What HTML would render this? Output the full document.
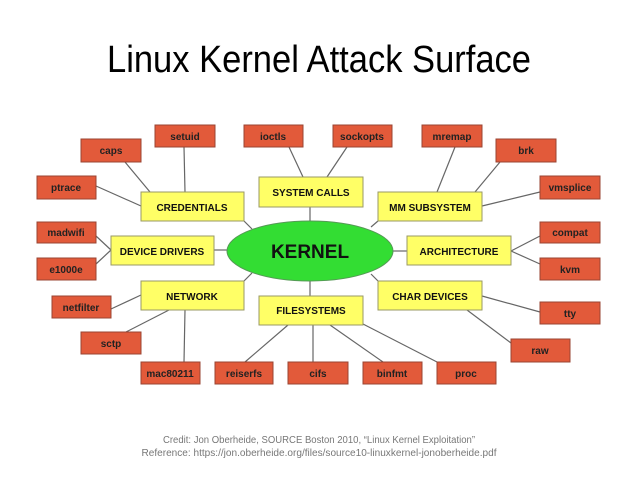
<!DOCTYPE html>
<html><head><meta charset="utf-8"><style>
html,body{margin:0;padding:0;background:#fff;}
svg{display:block;}
</style></head><body>
<svg width="638" height="479" viewBox="0 0 638 479" xmlns="http://www.w3.org/2000/svg" font-family="Liberation Sans, Arial, sans-serif">
<rect width="638" height="479" fill="#fff"/>
<text x="319" y="72" font-size="38" text-anchor="middle" textLength="424" lengthAdjust="spacingAndGlyphs" fill="#000">Linux Kernel Attack Surface</text>
<g stroke="#666" stroke-width="1.2">
<line x1="184" y1="147" x2="185" y2="192"/>
<line x1="125" y1="162" x2="150" y2="192"/>
<line x1="96" y1="186" x2="141" y2="206"/>
<line x1="244" y1="221" x2="252" y2="229"/>
<line x1="289" y1="147" x2="303" y2="177"/>
<line x1="347" y1="147" x2="327" y2="177"/>
<line x1="310" y1="207" x2="310" y2="221"/>
<line x1="96" y1="236" x2="111" y2="250"/>
<line x1="96" y1="264" x2="111" y2="250"/>
<line x1="214" y1="250" x2="227" y2="250"/>
<line x1="244" y1="281" x2="252" y2="273"/>
<line x1="111" y1="309" x2="141" y2="295"/>
<line x1="126" y1="332" x2="169" y2="310"/>
<line x1="184" y1="362" x2="185" y2="310"/>
<line x1="310" y1="281" x2="310" y2="296"/>
<line x1="245" y1="362" x2="288" y2="325"/>
<line x1="313" y1="362" x2="313" y2="325"/>
<line x1="383" y1="362" x2="330" y2="325"/>
<line x1="437" y1="362" x2="363" y2="324"/>
<line x1="371" y1="227" x2="378" y2="221"/>
<line x1="455" y1="147" x2="437" y2="192"/>
<line x1="500" y1="162" x2="475" y2="192"/>
<line x1="540" y1="192" x2="482" y2="206"/>
<line x1="392" y1="251" x2="407" y2="251"/>
<line x1="540" y1="236" x2="511" y2="251"/>
<line x1="540" y1="264" x2="511" y2="251"/>
<line x1="371" y1="274" x2="378" y2="281"/>
<line x1="540" y1="312" x2="482" y2="296"/>
<line x1="511" y1="343" x2="467" y2="310"/>
</g>
<ellipse cx="310" cy="251" rx="83" ry="30" fill="#33dd33" stroke="#559955" stroke-width="1"/>
<text x="310" y="258" font-size="19" font-weight="bold" text-anchor="middle" fill="#111">KERNEL</text>
<g fill="#ffff66" stroke="#999966" stroke-width="1">
<rect x="141" y="192" width="103" height="29"/>
<rect x="259" y="177" width="104" height="30"/>
<rect x="111" y="236" width="103" height="29"/>
<rect x="141" y="281" width="103" height="29"/>
<rect x="259" y="296" width="104" height="29"/>
<rect x="378" y="192" width="104" height="29"/>
<rect x="407" y="236" width="104" height="29"/>
<rect x="378" y="281" width="104" height="29"/>
</g>
<g font-size="10" font-weight="bold" text-anchor="middle" fill="#111">
<text x="192" y="211">CREDENTIALS</text>
<text x="311" y="196">SYSTEM CALLS</text>
<text x="162" y="255">DEVICE DRIVERS</text>
<text x="192" y="300">NETWORK</text>
<text x="311" y="314">FILESYSTEMS</text>
<text x="430" y="211">MM SUBSYSTEM</text>
<text x="459" y="255">ARCHITECTURE</text>
<text x="430" y="300">CHAR DEVICES</text>
</g>
<g fill="#e25a3a" stroke="#994433" stroke-width="1">
<rect x="155" y="125" width="60" height="22"/>
<rect x="81" y="139" width="60" height="23"/>
<rect x="37" y="176" width="59" height="23"/>
<rect x="244" y="125" width="59" height="22"/>
<rect x="333" y="125" width="59" height="22"/>
<rect x="422" y="125" width="60" height="22"/>
<rect x="496" y="139" width="60" height="23"/>
<rect x="540" y="176" width="60" height="23"/>
<rect x="37" y="222" width="59" height="21"/>
<rect x="37" y="258" width="59" height="22"/>
<rect x="540" y="222" width="60" height="21"/>
<rect x="540" y="258" width="60" height="22"/>
<rect x="52" y="296" width="59" height="22"/>
<rect x="81" y="332" width="60" height="22"/>
<rect x="540" y="302" width="60" height="22"/>
<rect x="511" y="339" width="59" height="23"/>
<rect x="141" y="362" width="59" height="22"/>
<rect x="215" y="362" width="58" height="22"/>
<rect x="288" y="362" width="60" height="22"/>
<rect x="363" y="362" width="59" height="22"/>
<rect x="437" y="362" width="59" height="22"/>
</g>
<g font-size="10" font-weight="bold" text-anchor="middle" fill="#222">
<text x="185" y="140">setuid</text>
<text x="111" y="154">caps</text>
<text x="66" y="191">ptrace</text>
<text x="273" y="140">ioctls</text>
<text x="362" y="140">sockopts</text>
<text x="452" y="140">mremap</text>
<text x="526" y="154">brk</text>
<text x="570" y="191">vmsplice</text>
<text x="66" y="236">madwifi</text>
<text x="66" y="273">e1000e</text>
<text x="570" y="236">compat</text>
<text x="570" y="273">kvm</text>
<text x="81" y="311">netfilter</text>
<text x="111" y="347">sctp</text>
<text x="570" y="317">tty</text>
<text x="540" y="354">raw</text>
<text x="170" y="377">mac80211</text>
<text x="244" y="377">reiserfs</text>
<text x="318" y="377">cifs</text>
<text x="392" y="377">binfmt</text>
<text x="466" y="377">proc</text>
</g>
<g font-size="10" fill="#777" text-anchor="middle">
<text x="319" y="443" textLength="312" lengthAdjust="spacingAndGlyphs">Credit: Jon Oberheide, SOURCE Boston 2010, “Linux Kernel Exploitation”</text>
<text x="319" y="456" textLength="355" lengthAdjust="spacingAndGlyphs">Reference: https://jon.oberheide.org/files/source10-linuxkernel-jonoberheide.pdf</text>
</g>
</svg>
</body></html>
